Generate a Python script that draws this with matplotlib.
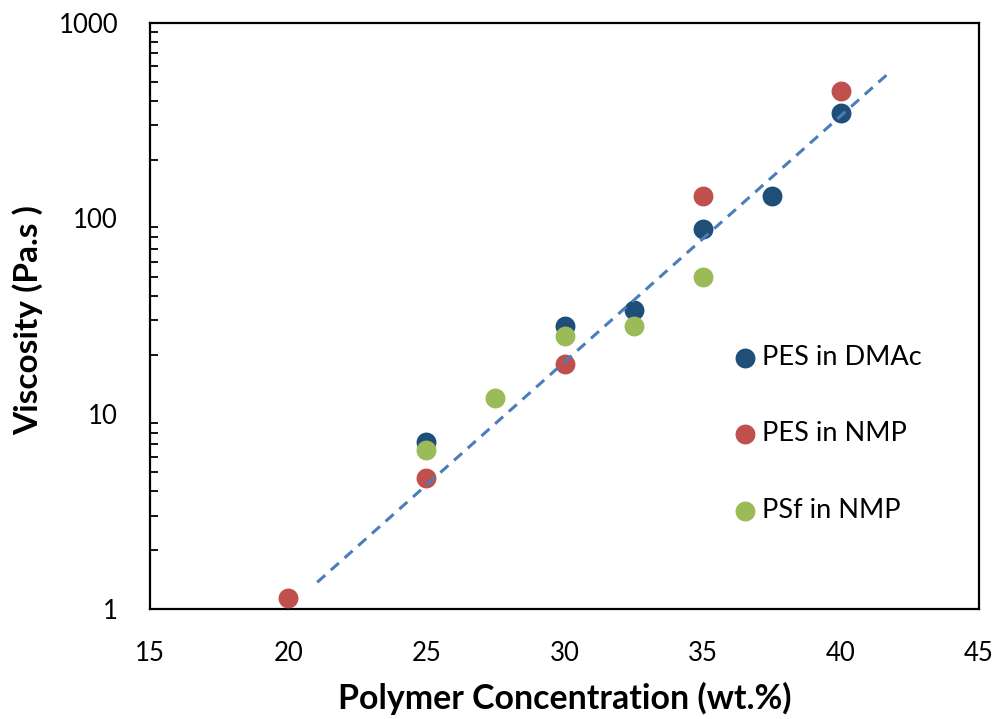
import numpy as np
import matplotlib.pyplot as plt
from matplotlib.ticker import LogLocator, NullFormatter

plt.rcParams['font.family'] = ['Lato', 'DejaVu Sans']

# PES in DMAc
dmac_conc = [25, 30, 32.5, 35, 37.5, 40]
dmac_visc = [7.2, 28, 34, 88, 130, 345]
# PES in NMP
pes_nmp_conc = [20, 25, 30, 35, 40]
pes_nmp_visc = [1.14, 4.7, 18, 130, 450]
# PSf in NMP
psf_nmp_conc = [25, 27.5, 30, 32.5, 35]
psf_nmp_visc = [6.5, 12, 25, 28, 50]

# exponential trendline, end points
trend_conc = [21.05, 41.8]
trend_visc = [1.37, 565]

x_ticks = [15, 20, 25, 30, 35, 40, 45]
y_ticks = [1, 10, 100, 1000]

fig = plt.figure(figsize=(9.98, 7.19), dpi=100)
ax = fig.add_axes([0.1503, 0.153, 0.8307, 0.815])

ms = 205
ax.scatter(dmac_conc, dmac_visc, s=ms, color='#1F4E79', label='PES in DMAc', zorder=3, linewidths=0)
ax.scatter(pes_nmp_conc, pes_nmp_visc, s=ms, color='#C0504D', label='PES in NMP', zorder=3, linewidths=0)
ax.scatter(psf_nmp_conc, psf_nmp_visc, s=ms, color='#9BBB59', label='PSf in NMP', zorder=3, linewidths=0)

# trendline between the read end points, straight on log scale
tx = np.linspace(trend_conc[0], trend_conc[1], 50)
ty = 10 ** np.interp(tx, trend_conc, np.log10(trend_visc))
ax.plot(tx, ty, linestyle=(0, (3.5, 2.5)), color='#4A7EBB', linewidth=2.2, zorder=4)

ax.set_yscale('log')
ax.set_xlim(15, 45)
ax.set_ylim(1, 1000)
ax.set_xticks(x_ticks)
ax.set_yticks(y_ticks)
ax.set_yticklabels([str(v) for v in y_ticks])
ax.yaxis.set_minor_locator(LogLocator(base=10, subs=np.arange(2, 10)))
ax.yaxis.set_minor_formatter(NullFormatter())
ax.tick_params(axis='x', which='both', length=0, labelsize=18.5, pad=23)
ax.tick_params(axis='y', which='major', length=0, labelsize=18.5, pad=23)
ax.tick_params(axis='y', which='minor', direction='in', length=6, width=1.3)

for sp in ax.spines.values():
    sp.set_linewidth(1.6)

ax.set_xlabel('Polymer Concentration (wt.%)', fontsize=24.4, fontweight='bold', va='center')
ax.set_ylabel('Viscosity (Pa.s )', fontsize=24, fontweight='bold', va='center')
ax.xaxis.set_label_coords(0.5, -0.152)
ax.yaxis.set_label_coords(-0.147, 0.493)

ax.legend(loc='center left', bbox_to_anchor=(0.668, 0.299), frameon=False, fontsize=19.5,
          labelspacing=1.9, handletextpad=0.0, markerscale=1.0, handlelength=1.26)

fig.savefig('out.png', dpi=100)
